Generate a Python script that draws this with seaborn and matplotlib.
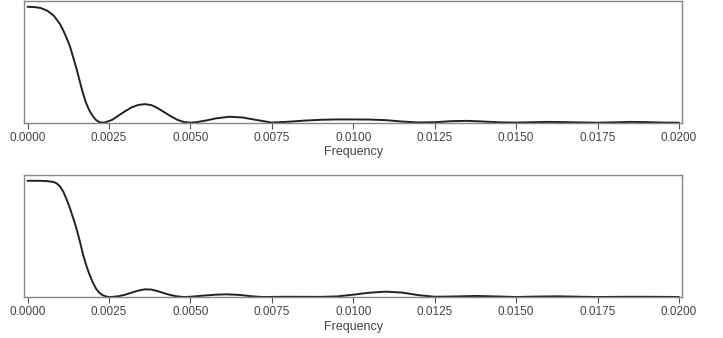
import matplotlib
matplotlib.use("Agg")
import matplotlib.pyplot as plt
import seaborn as sns
import pandas as pd

# ---- data ----
top_freq = [0, 0.0002, 0.0004, 0.0006, 0.0008, 0.0010, 0.0011, 0.0012, 0.0013, 0.0014,
            0.0015, 0.0016, 0.0017, 0.0018, 0.0019, 0.0020, 0.0021, 0.0022, 0.0023, 0.0024,
            0.0026, 0.0028, 0.0030, 0.0032, 0.0034, 0.0036, 0.0038, 0.0040, 0.0042, 0.0044,
            0.0046, 0.0048, 0.0050, 0.0052, 0.0055, 0.0058, 0.0062, 0.0066, 0.0070, 0.0075,
            0.0080, 0.0085, 0.0090, 0.0095, 0.0100, 0.0105, 0.0110, 0.0115, 0.0120, 0.0125,
            0.0130, 0.0135, 0.0140, 0.0145, 0.0150, 0.0155, 0.0160, 0.0165, 0.0170, 0.0175,
            0.0180, 0.0185, 0.0190, 0.0195, 0.0200]
top_power = [1.0, 0.998, 0.99, 0.967, 0.925, 0.85, 0.794, 0.73, 0.66, 0.565,
             0.47, 0.36, 0.255, 0.168, 0.105, 0.058, 0.024, 0.006, 0.0, 0.004,
             0.025, 0.063, 0.10, 0.133, 0.153, 0.16, 0.152, 0.125, 0.09, 0.055,
             0.025, 0.006, 0.0, 0.005, 0.02, 0.038, 0.051, 0.045, 0.025, 0.001,
             0.008, 0.018, 0.025, 0.028, 0.028, 0.027, 0.022, 0.010, 0.002, 0.004,
             0.013, 0.016, 0.010, 0.003, 0.001, 0.004, 0.007, 0.005, 0.002, 0.0,
             0.003, 0.007, 0.005, 0.001, 0.0]

bot_freq = [0, 0.0002, 0.0004, 0.0006, 0.0008, 0.0009, 0.0010, 0.0011, 0.0012, 0.0013,
            0.0014, 0.0015, 0.0016, 0.0017, 0.0018, 0.0019, 0.0020, 0.0021, 0.0022, 0.0023,
            0.0024, 0.0025, 0.0026, 0.0028, 0.0030, 0.0032, 0.0034, 0.0036, 0.0038, 0.0040,
            0.0042, 0.0044, 0.0046, 0.0048, 0.0050, 0.0054, 0.0058, 0.0061, 0.0065, 0.0069,
            0.0072, 0.0080, 0.0090, 0.0095, 0.0100, 0.0105, 0.0110, 0.0115, 0.0120, 0.0125,
            0.0130, 0.0138, 0.0145, 0.0150, 0.0157, 0.0163, 0.0170, 0.0175, 0.0185, 0.0190,
            0.0200]
bot_power = [1.0, 1.0, 1.0, 0.997, 0.99, 0.977, 0.95, 0.905, 0.84, 0.765,
             0.68, 0.59, 0.485, 0.37, 0.275, 0.195, 0.128, 0.073, 0.037, 0.017,
             0.005, 0.0, 0.001, 0.007, 0.02, 0.038, 0.055, 0.066, 0.064, 0.05,
             0.032, 0.016, 0.005, 0.0, 0.002, 0.012, 0.02, 0.023, 0.018, 0.006,
             0.0, 0.002, 0.001, 0.005, 0.02, 0.037, 0.046, 0.038, 0.016, 0.002,
             0.004, 0.009, 0.004, 0.0, 0.004, 0.006, 0.002, 0.0, 0.002, 0.002,
             0.0]

xticks = [0.0, 0.0025, 0.005, 0.0075, 0.01, 0.0125, 0.015, 0.0175, 0.02]
xtick_labels = ["0.0000", "0.0025", "0.0050", "0.0075", "0.0100",
                "0.0125", "0.0150", "0.0175", "0.0200"]
xlabel = "Frequency"

sns.set_style("white")
plt.rcParams["font.family"] = ["Liberation Sans", "DejaVu Sans"]

fig = plt.figure(figsize=(7.23, 3.38), dpi=100)
ax1 = fig.add_axes([0.0336, 0.637, 0.910, 0.360])
ax2 = fig.add_axes([0.0336, 0.1213, 0.910, 0.361])

for ax, fx, py in [(ax1, top_freq, top_power), (ax2, bot_freq, bot_power)]:
    df = pd.DataFrame({"Frequency": fx, "Power": py})
    sns.lineplot(data=df, x="Frequency", y="Power", ax=ax, color="#222222",
                 linewidth=1.4, clip_on=False)
    ax.set_xlim(-0.0001, 0.0201)
    ax.set_ylim(0, 1.05)
    ax.set_yticks([])
    ax.set_ylabel("")
    ax.set_xticks(xticks)
    ax.set_xticklabels(xtick_labels)
    ax.set_xlabel(xlabel, fontsize=9, color="#444444", labelpad=2)
    ax.tick_params(axis="x", bottom=True, length=4, width=0.8, color="#555555",
                   labelsize=8.5, labelcolor="#444444", pad=2.5)
    for s in ax.spines.values():
        s.set_color("#888888")
        s.set_linewidth(1.0)

fig.savefig("out.png", dpi=100)
